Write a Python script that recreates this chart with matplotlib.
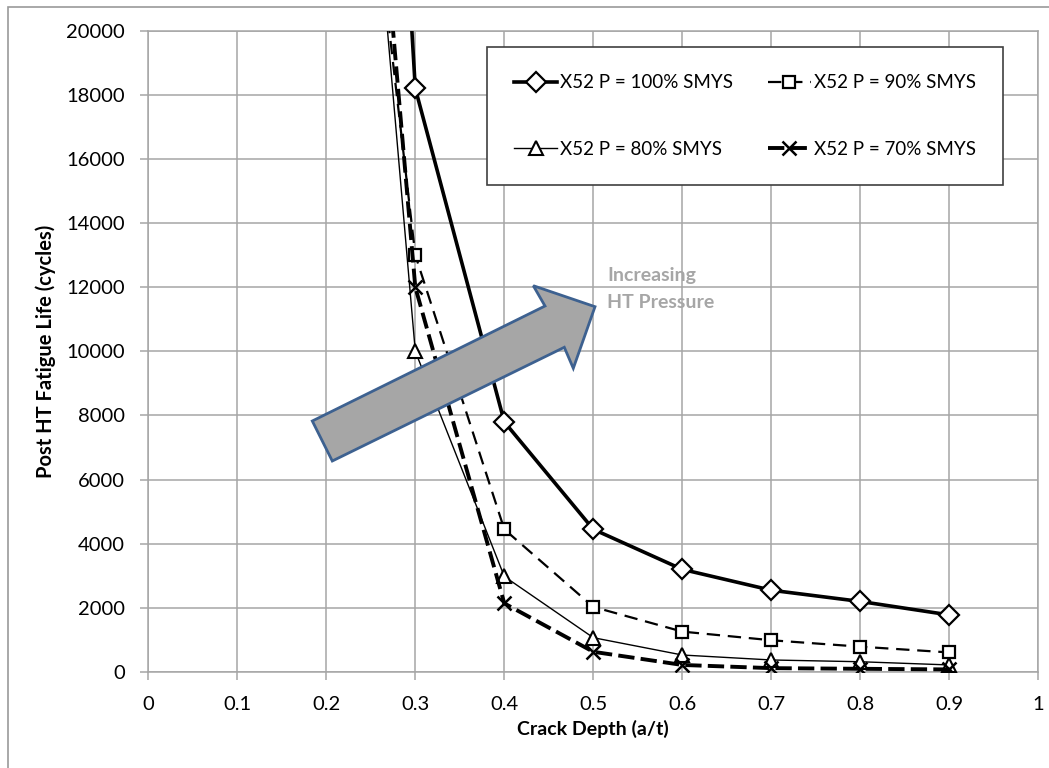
import matplotlib
matplotlib.use("Agg")
import matplotlib.pyplot as plt
from matplotlib.patches import Polygon, Rectangle

plt.rcParams['font.family'] = ['Lato', 'DejaVu Sans']

# Crack depth (a/t) and post-hydrotest fatigue life (cycles)
crack_depth = [0.2, 0.3, 0.4, 0.5, 0.6, 0.7, 0.8, 0.9]
life_100 = [65000, 18200, 7800, 4450, 3200, 2550, 2200, 1780]
life_90 = [37000, 13000, 4450, 2030, 1260, 990, 790, 610]
life_80 = [42000, 10000, 2980, 1070, 530, 375, 320, 220]
life_70 = [44000, 12000, 2140, 630, 220, 120, 100, 80]

labels = ["X52 P = 100% SMYS", "X52 P = 90% SMYS",
          "X52 P = 80% SMYS", "X52 P = 70% SMYS"]
x_ticks = [0, 0.1, 0.2, 0.3, 0.4, 0.5, 0.6, 0.7, 0.8, 0.9, 1]
y_ticks = list(range(0, 20001, 2000))

W, H = 1049, 768
fig = plt.figure(figsize=(W / 100, H / 100), dpi=100)
ax = fig.add_axes([148.3 / W, 1 - 672 / H, 890 / W, (672 - 30.7) / H])

# chart-area frame (left and top edges fall inside the image)
fig.patches.append(Rectangle((8 / W, -0.2), 1.2, 1.2 - 7 / H, transform=fig.transFigure,
                             fill=False, edgecolor='#9a9a9a', lw=1.2))

grid_c = '#a6a6a6'
ax.set_xlim(0, 1)
ax.set_ylim(0, 20000)
ax.set_xticks(x_ticks)
ax.set_xticklabels([f"{t:g}" for t in x_ticks])
ax.set_yticks(y_ticks)
ax.set_yticklabels([str(t) for t in y_ticks])
ax.grid(True, color=grid_c, lw=1.1)
ax.set_axisbelow(True)
for s in ax.spines.values():
    s.set_color(grid_c)
    s.set_linewidth(1.1)
ax.tick_params(axis='both', colors=grid_c, length=6, width=1.1, labelsize=14.5,
               labelcolor='black')
ax.tick_params(axis='y', pad=11)
ax.tick_params(axis='x', pad=11)

l100, = ax.plot(crack_depth, life_100, color='black', lw=2.6, marker='D', ms=10,
                mfc='white', mec='black', mew=1.6, zorder=4)
l90, = ax.plot(crack_depth, life_90, color='black', lw=1.6, marker='s', ms=9,
               mfc='white', mec='black', mew=1.6, dashes=(6, 3.5), zorder=3)
l80, = ax.plot(crack_depth, life_80, color='black', lw=1.0, marker='^', ms=10,
               mfc='white', mec='black', mew=1.5, zorder=3)
l70, = ax.plot(crack_depth, life_70, color='black', lw=2.8, marker='x', ms=10,
               mec='black', mew=1.8, dashes=(4.2, 1.6), zorder=3)

ax.set_xlabel("Crack Depth (a/t)", fontsize=14, fontweight='bold', labelpad=5)
ax.set_ylabel("Post HT Fatigue Life (cycles)", fontsize=14.5, fontweight='bold',
              labelpad=7)

leg = fig.legend([l100, l80, l90, l70],
                 [labels[0], labels[2], labels[1], labels[3]],
                 ncol=2, loc='upper left',
                 bbox_to_anchor=(487 / W, 1 - 184 / H, (1003 - 487) / W, (184 - 47) / H),
                 mode='expand', borderaxespad=0, fontsize=13.5, frameon=True,
                 fancybox=False, edgecolor='#404040', framealpha=1,
                 handlelength=2.3, handletextpad=0.15, labelspacing=2.65,
                 borderpad=1.45)
leg.get_frame().set_linewidth(1.2)

# block arrow showing increasing hydrotest pressure
arrow_px = [(312.3, 421), (545, 306), (533.3, 285.7), (595, 306.7),
            (573.3, 368.3), (564.3, 347.3), (332.3, 461)]
arrow = Polygon([(px / W, 1 - py / H) for px, py in arrow_px], closed=True,
                transform=fig.transFigure, facecolor='#a6a6a6',
                edgecolor='#3d6190', lw=2, zorder=6)
fig.patches.append(arrow)
fig.text(607 / W, 1 - 275 / H, "Increasing", fontsize=14, fontweight='bold',
         color='#a6a6a6', va='center', ha='left')
fig.text(607 / W, 1 - 302 / H, "HT Pressure", fontsize=14, fontweight='bold',
         color='#a6a6a6', va='center', ha='left')

fig.savefig("out.png", dpi=100)
